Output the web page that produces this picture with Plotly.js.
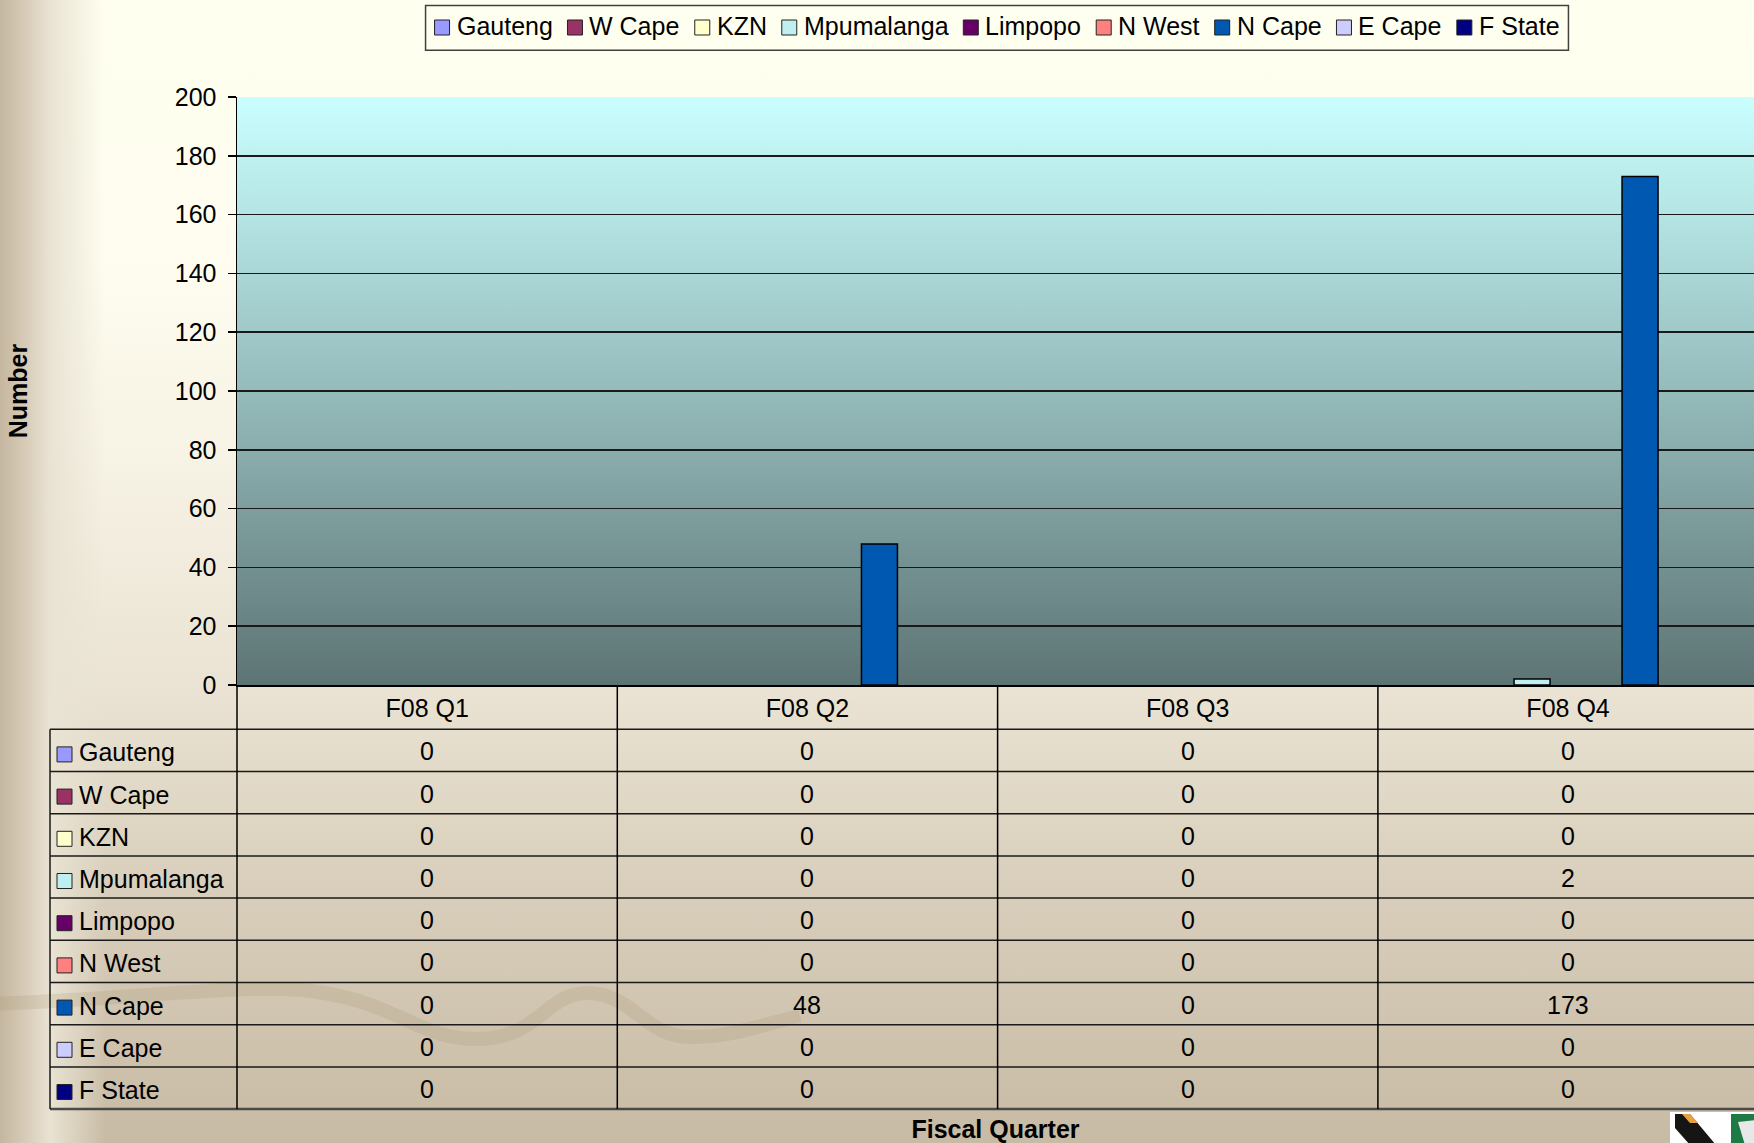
<!DOCTYPE html>
<html><head><meta charset="utf-8">
<script src="https://cdn.plot.ly/plotly-3.0.1.min.js"></script>
<style>
html,body{margin:0;padding:0;}
#wrap{position:relative;width:1754px;height:1143px;overflow:hidden;
background:
 linear-gradient(to right, #C4B69F 0px, #CCBFA9 10px, #D9CEBB 28px, #E9E3D3 50px, rgba(255,255,240,0) 105px),
 linear-gradient(to bottom, #FFFFF0 0px, #FEFDEF 260px, #F7F3E5 450px, #EAE3D3 690px, #D9CFBC 880px, #C8BBA5 1143px);}
#chart{position:absolute;left:0;top:0;width:1754px;height:1143px;}
</style></head>
<body><div id="wrap"><div id="chart"></div></div>
<script>
// ---- data ----
const categories = ['F08 Q1', 'F08 Q2', 'F08 Q3', 'F08 Q4'];
const provinces = ['Gauteng', 'W Cape', 'KZN', 'Mpumalanga', 'Limpopo', 'N West', 'N Cape', 'E Cape', 'F State'];
const gauteng    = [0, 0, 0, 0];
const wCape      = [0, 0, 0, 0];
const kzn        = [0, 0, 0, 0];
const mpumalanga = [0, 0, 0, 2];
const limpopo    = [0, 0, 0, 0];
const nWest      = [0, 0, 0, 0];
const nCape      = [0, 48, 0, 173];
const eCape      = [0, 0, 0, 0];
const fState     = [0, 0, 0, 0];
const seriesColors = ['#9999FF', '#993366', '#FFFFCC', '#BFEFEF', '#660066', '#FF8080', '#0058B0', '#CCCCFF', '#000080'];
const yTicks = [0, 20, 40, 60, 80, 100, 120, 140, 160, 180, 200];

const seriesValues = [gauteng, wCape, kzn, mpumalanga, limpopo, nWest, nCape, eCape, fState];

// ---- geometry helpers (page pixels -> paper) ----
const W = 1754, H = 1143, L = 237, T = 97, B = 685;
const PW = W - L, PH = B - T;
const px = x => (x - L) / PW;
const py = y => (B - y) / PH;
const P = (x, y) => px(x).toFixed(5) + ',' + py(y).toFixed(5);
const FONT = "'Liberation Sans', Arial, sans-serif";
const FS = 25;

const traces = provinces.map((name, i) => ({
  type: 'bar', name: name, x: categories, y: seriesValues[i],
  marker: { color: seriesColors[i], line: { color: '#000', width: seriesValues[i].map(v => v === 0 ? 0 : 1.5) } },
  showlegend: false, hoverinfo: 'skip'
}));

const shapes = [];
const annotations = [];

// decorative wave
shapes.push({
  type: 'path', xref: 'paper', yref: 'paper', layer: 'below',
  path: `M ${P(-10,1004)} C ${P(150,998)} ${P(250,982)} ${P(318,992)} C ${P(400,1004)} ${P(420,1040)} ${P(478,1039)} C ${P(540,1038)} ${P(545,993)} ${P(588,993)} C ${P(632,993)} ${P(645,1037)} ${P(690,1037)} C ${P(735,1037)} ${P(770,1022)} ${P(800,1016)}`,
  line: { color: 'rgba(165,145,110,0.2)', width: 14 }
});

// plot-area gradient
const svg = '<svg xmlns="http://www.w3.org/2000/svg" width="10" height="100" viewBox="0 0 10 100" preserveAspectRatio="none"><defs><linearGradient id="g" x1="0" y1="0" x2="0" y2="1"><stop offset="0" stop-color="#CAFFFF"/><stop offset="0.5" stop-color="#95BBBB"/><stop offset="1" stop-color="#5D7474"/></linearGradient></defs><rect width="10" height="100" fill="url(#g)"/></svg>';
const images = [{
  source: 'data:image/svg+xml;charset=utf-8,' + encodeURIComponent(svg),
  xref: 'paper', yref: 'paper', x: 0, y: 1, sizex: 1, sizey: 1,
  xanchor: 'left', yanchor: 'top', sizing: 'stretch', layer: 'below'
}];

// ---- data table ----
const rowTop = 729.3, rowH = 42.2, tblLeft = 50;
const nRows = provinces.length;
const tblBottom = rowTop + nRows * rowH;
for (let i = 0; i <= nRows; i++) {
  const y = rowTop + i * rowH;
  shapes.push({ type: 'line', xref: 'paper', yref: 'paper', x0: px(tblLeft), x1: 1.01, y0: py(y), y1: py(y),
    line: { color: i === nRows ? '#4a4a4a' : '#1a1a1a', width: i === nRows ? 2.5 : 1.5 } });
}
shapes.push({ type: 'line', xref: 'paper', yref: 'paper', x0: px(tblLeft), x1: px(tblLeft), y0: py(rowTop), y1: py(tblBottom), line: { color: '#1a1a1a', width: 1.5 } });
shapes.push({ type: 'line', xref: 'paper', yref: 'paper', x0: 0, x1: 0, y0: 0, y1: py(tblBottom), line: { color: '#000', width: 1.5 } });
for (let c = 0; c < categories.length - 1; c++) {
  shapes.push({ type: 'line', xref: 'x', yref: 'paper', x0: c + 0.5, x1: c + 0.5, y0: 0, y1: py(tblBottom), line: { color: '#000', width: 1.5 } });
}
provinces.forEach((name, i) => {
  const yc = rowTop + (i + 0.5) * rowH + 2;
  shapes.push({ type: 'rect', xref: 'paper', yref: 'paper', x0: px(57), x1: px(72), y0: py(yc - 5.5), y1: py(yc + 9.5),
    fillcolor: seriesColors[i], line: { color: '#222', width: 1 } });
  annotations.push({ xref: 'paper', yref: 'paper', x: px(77), y: py(yc), xanchor: 'left', yanchor: 'middle',
    text: name, showarrow: false, font: { family: FONT, size: FS, color: '#000' } });
  categories.forEach((cat, c) => {
    annotations.push({ xref: 'x', yref: 'paper', x: c, y: py(yc - 1), xanchor: 'center', yanchor: 'middle',
      text: String(seriesValues[i][c]), showarrow: false, font: { family: FONT, size: FS, color: '#000' } });
  });
});

// ---- custom legend ----
const cv = document.createElement('canvas').getContext('2d');
cv.font = FS + "px 'Liberation Sans'";
const widths = provinces.map(n => cv.measureText(n).width);
const sw = 16, g1 = 6, g2 = 15, pad = 9;
const total = pad * 2 + widths.reduce((a, w) => a + sw + g1 + w, 0) + g2 * (provinces.length - 1);
const legLeft = 997 - total / 2, legTop = 5.6, legBottom = 50.3, legMid = 27.5;
shapes.push({ type: 'rect', xref: 'paper', yref: 'paper', x0: px(legLeft), x1: px(legLeft + total), y0: py(legTop), y1: py(legBottom),
  fillcolor: '#FFFFF0', line: { color: '#404040', width: 1.5 } });
let cur = legLeft + pad;
provinces.forEach((name, i) => {
  shapes.push({ type: 'rect', xref: 'paper', yref: 'paper', x0: px(cur), x1: px(cur + sw - 1), y0: py(legMid - 7.5), y1: py(legMid + 7.5),
    fillcolor: seriesColors[i], line: { color: '#222', width: 1 } });
  annotations.push({ xref: 'paper', yref: 'paper', x: px(cur + sw + g1 - 2), y: py(legMid - 1), xanchor: 'left', yanchor: 'middle',
    text: name, showarrow: false, font: { family: FONT, size: FS, color: '#000' } });
  cur += sw + g1 + widths[i] + g2;
});

// ---- small logo, bottom right ----
shapes.push({ type: 'rect', xref: 'paper', yref: 'paper', x0: px(1670), x1: px(1756), y0: py(1112), y1: py(1145), fillcolor: '#FFFFFF', line: { width: 0 } });
shapes.push({ type: 'path', xref: 'paper', yref: 'paper', path: `M ${P(1675,1114)} L ${P(1690,1114)} L ${P(1716,1145)} L ${P(1690,1145)} L ${P(1675,1128)} Z`, fillcolor: '#151515', line: { width: 0 } });
shapes.push({ type: 'path', xref: 'paper', yref: 'paper', path: `M ${P(1682,1114)} L ${P(1690,1114)} L ${P(1698,1123)} L ${P(1690,1123)} Z`, fillcolor: '#E8A040', line: { width: 0 } });
shapes.push({ type: 'path', xref: 'paper', yref: 'paper', path: `M ${P(1731,1114)} L ${P(1756,1114)} L ${P(1756,1145)} L ${P(1731,1145)} Z`, fillcolor: '#1E7A45', line: { width: 0 } });
shapes.push({ type: 'path', xref: 'paper', yref: 'paper', path: `M ${P(1738,1122)} L ${P(1756,1120)} L ${P(1756,1145)} L ${P(1745,1145)} Z`, fillcolor: '#E8E8E8', line: { width: 0 } });

const layout = {
  width: W, height: H,
  margin: { l: L, r: 0, t: T, b: H - B, pad: 0 },
  paper_bgcolor: 'rgba(0,0,0,0)', plot_bgcolor: 'rgba(0,0,0,0)',
  font: { family: FONT, size: FS, color: '#000' },
  barmode: 'group', bargap: 0.148, bargroupgap: 0,
  showlegend: false,
  xaxis: {
    type: 'category', range: [-0.5, -0.5 + PW / 380.3], fixedrange: true,
    showline: true, linecolor: '#000', linewidth: 1.5, ticks: '', showgrid: false,
    tickfont: { family: FONT, size: FS, color: '#000' }, ticklabelstandoff: 0,
    title: { text: 'Fiscal Quarter', font: { family: FONT, size: FS, weight: 'bold', color: '#000' }, standoff: 407 }
  },
  yaxis: {
    range: [0, 200], tickvals: yTicks, fixedrange: true,
    ticks: 'outside', ticklen: 8, tickwidth: 1.5, tickcolor: '#000',
    showline: true, linecolor: '#000', linewidth: 1.5,
    showgrid: true, gridcolor: '#1a1a1a', gridwidth: 1.5, zeroline: false,
    tickfont: { family: FONT, size: FS, color: '#000' }, ticklabelstandoff: 6,
    title: { text: 'Number', font: { family: FONT, size: FS, weight: 'bold', color: '#000' }, standoff: 140 }
  },
  shapes: shapes, annotations: annotations, images: images
};

Plotly.newPlot('chart', traces, layout, { displayModeBar: false, staticPlot: true });
</script>
</body></html>
